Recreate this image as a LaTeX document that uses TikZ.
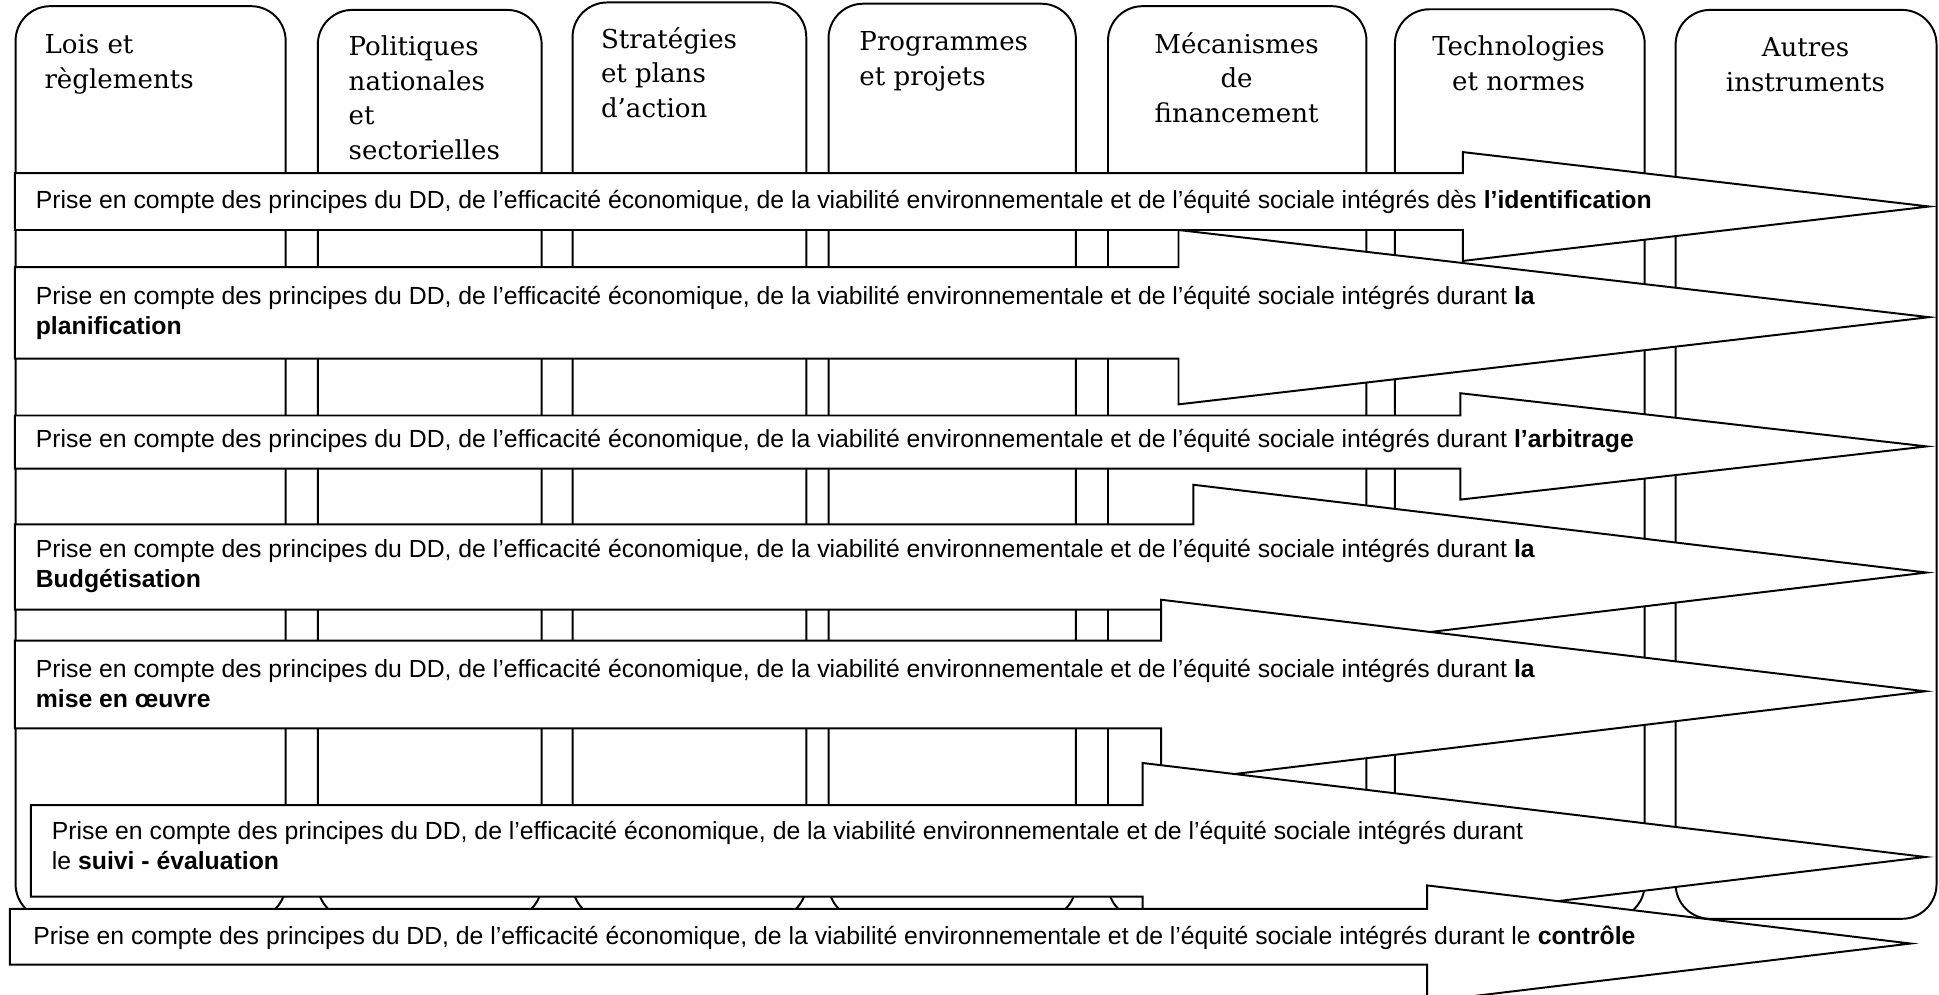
\documentclass[tikz,border=0pt]{standalone}
\usepackage{fontspec}
\setmainfont{Liberation Sans}
\newfontfamily\entetefont{DejaVu Serif}

% texte commun des fleches
\newcommand{\prise}{Prise en compte des principes du DD, de l’efficacité économique, de la viabilité environnementale et de l’équité sociale intégrés}
% fleche : gauche, haut, bas, epaule, encoche haut, encoche bas, pointe
\newcommand{\fleche}[7]{\draw[bigarrow] (#1,#2) -- (#4,#2) -- (#4,#5) -- (#7,{(#5+#6)/2}) -- (#4,#6) -- (#4,#3) -- (#1,#3) -- cycle;}

\begin{document}
\begin{tikzpicture}[x=0.02cm,y=-0.02cm,line width=0.9pt,inner sep=0pt,outer sep=0pt,
colbox/.style={draw,fill=white,rounded corners=0.56cm},
entete/.style={font=\entetefont\fontsize{12}{15.9}\selectfont},
bigarrow/.style={draw,fill=white,line join=miter},
texte/.style={font=\fontsize{11.4}{13.7}\selectfont,align=left,anchor=west}]

\fill[white] (0,0) rectangle (1568,804);
\useasboundingbox (0,0) rectangle (1568,804);

% colonnes
\draw[colbox] (12.6,5) rectangle (231,743);
\draw[colbox] (257,8) rectangle (438,743);
\draw[colbox] (463,2) rectangle (652,743);
\draw[colbox] (670,3) rectangle (870,743);
\draw[colbox] (896,5) rectangle (1105,743);
\draw[colbox] (1128,7.5) rectangle (1330,743);
\draw[colbox] (1355,8) rectangle (1566,743);

% titres (ancre sur la ligne de base de la derniere ligne)
\node[entete,align=left,anchor=base west] (lois) at (36,71.5) {Lois et\\règlements};
\node[entete,align=left,anchor=base west] (polit) at (282,129) {Politiques\\nationales\\et\\sectorielles};
\node[entete,align=left,anchor=base west] (strat) at (486,95) {Stratégies\\et plans\\d’action};
\node[entete,align=left,anchor=base west] (progr) at (695,69) {Programmes\\et projets};
\node[entete,align=center,anchor=base] (meca) at (1000,99) {Mécanismes\\de\\financement};
\node[entete,align=center,anchor=base] (techno) at (1228,73) {Technologies\\et normes};
\node[entete,align=center,anchor=base] (autres) at (1460,74) {Autres\\instruments};

% fleches
\fleche{12}{140}{186}{1183}{123}{211}{1560}
\node[texte] (identif) at (29,163) {\prise{} dès \textbf{l’identification}};
\fleche{12}{216}{290}{953}{186}{327}{1560}
\node[texte] (planif) at (29,253) {\prise{} durant \textbf{la}\\\textbf{planification}};
\fleche{12}{336}{379}{1181}{318}{404}{1558}
\node[texte] (arbit) at (29,357) {\prise{} durant \textbf{l’arbitrage}};
\fleche{12}{424}{493}{965}{392}{534}{1558}
\node[texte] (budget) at (29,458) {\prise{} durant \textbf{la}\\\textbf{Budgétisation}};
\fleche{12}{518}{589}{939}{485}{633}{1557}
\node[texte] (oeuvre) at (29,553) {\prise{} durant \textbf{la}\\\textbf{mise en œuvre}};
\fleche{25}{651}{725}{924}{617}{769}{1557}
\node[texte] (suivi) at (42,684) {\prise{} durant\\le \textbf{suivi - évaluation}};
\fleche{8}{735}{780}{1154}{716}{810}{1545}
\node[texte] (controle) at (27,758) {\prise{} durant le \textbf{contrôle}};
\end{tikzpicture}
\end{document}
